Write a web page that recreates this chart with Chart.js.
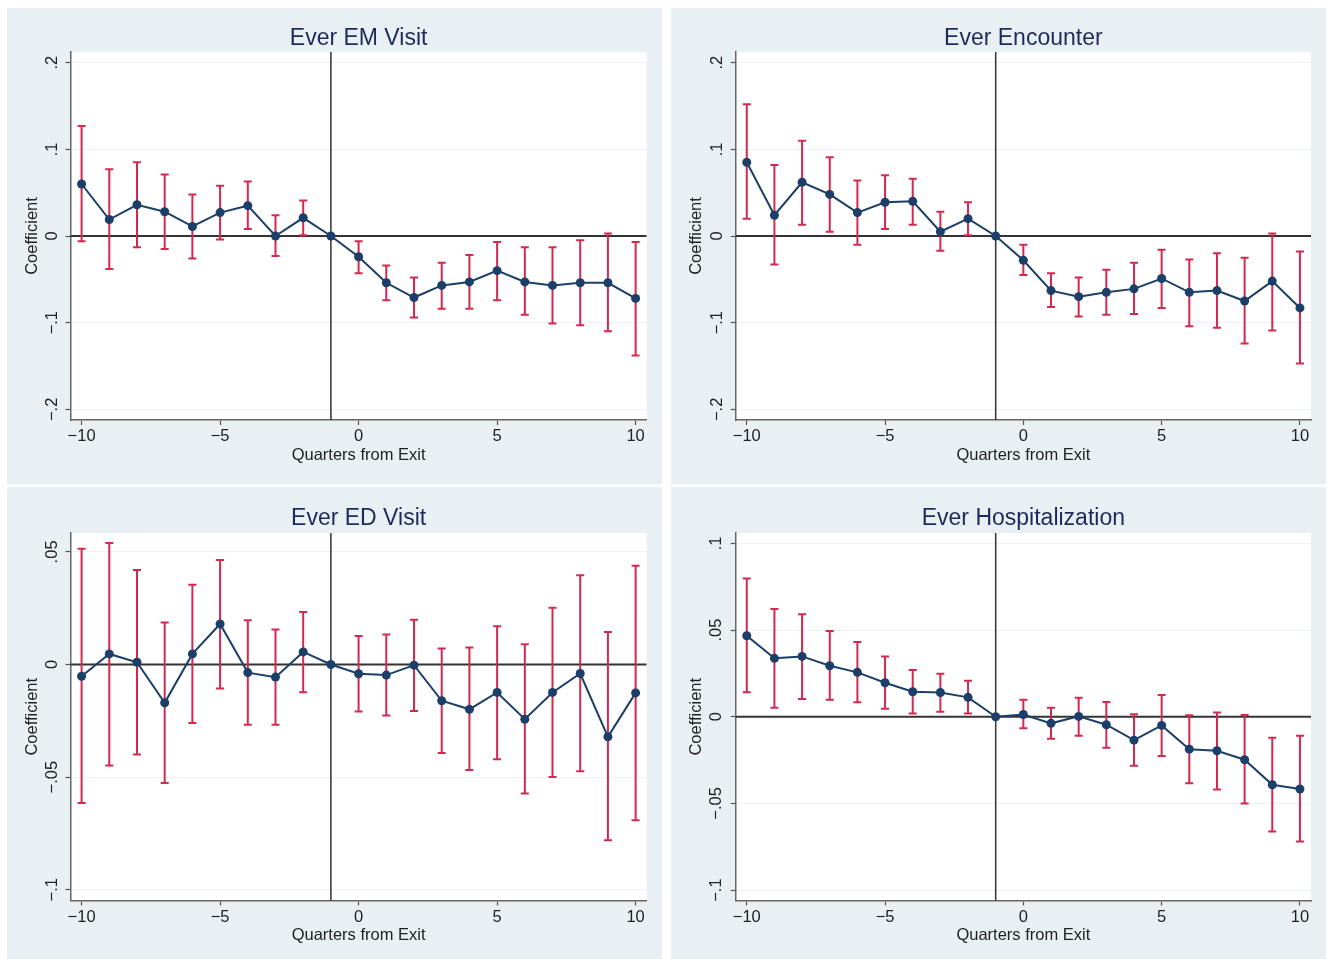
<!DOCTYPE html>
<html>
<head>
<meta charset="utf-8">
<title>Event study coefficients</title>
<script src="https://cdn.jsdelivr.net/npm/chart.js@4.4.1/dist/chart.umd.min.js"></script>
<style>
  body { margin: 0; background: #fff; width: 1333px; height: 959px; position: relative; overflow: hidden; }
  .panel { position: absolute; background: #e9f0f3; }
  .panel canvas { display: block; }
</style>
</head>
<body>
<div class="panel" style="left:7px;top:8px;width:655px;height:476px"><canvas id="emChart" width="655" height="476"></canvas></div>
<div class="panel" style="left:671px;top:8px;width:655px;height:476px"><canvas id="encChart" width="655" height="476"></canvas></div>
<div class="panel" style="left:7px;top:487px;width:655px;height:472px"><canvas id="edChart" width="655" height="472"></canvas></div>
<div class="panel" style="left:671px;top:487px;width:655px;height:472px"><canvas id="hospChart" width="655" height="472"></canvas></div>
<script>
// Quarters relative to exit (x axis)
const quarters = [-10, -9, -8, -7, -6, -5, -4, -3, -2, -1, 0, 1, 2, 3, 4, 5, 6, 7, 8, 9, 10];
const xTicks = [-10, -5, 0, 5, 10];
const xTickLabels = ['−10', '−5', '0', '5', '10'];
const xRange = [-10.4, 10.4];
const omittedQuarter = -1;

// Ever EM Visit
const emCoef = [0.060, 0.019, 0.036, 0.028, 0.011, 0.027, 0.035, 0.000, 0.021, 0, -0.024, -0.054, -0.071, -0.057, -0.053, -0.040, -0.053, -0.057, -0.054, -0.054, -0.072];
const emLo = [-0.006, -0.038, -0.013, -0.015, -0.026, -0.004, 0.008, -0.023, 0.001, null, -0.043, -0.074, -0.094, -0.084, -0.084, -0.074, -0.091, -0.101, -0.103, -0.110, -0.138];
const emHi = [0.127, 0.077, 0.085, 0.071, 0.048, 0.058, 0.063, 0.024, 0.041, null, -0.006, -0.034, -0.048, -0.031, -0.022, -0.007, -0.013, -0.013, -0.005, 0.003, -0.007];

// Ever Encounter
const encCoef = [0.085, 0.024, 0.062, 0.048, 0.027, 0.039, 0.040, 0.005, 0.020, 0, -0.028, -0.063, -0.070, -0.065, -0.061, -0.049, -0.065, -0.063, -0.075, -0.052, -0.083];
const encLo = [0.020, -0.033, 0.013, 0.005, -0.010, 0.008, 0.013, -0.017, 0.001, null, -0.045, -0.082, -0.093, -0.091, -0.090, -0.083, -0.104, -0.106, -0.124, -0.109, -0.147];
const encHi = [0.152, 0.082, 0.110, 0.091, 0.064, 0.070, 0.066, 0.028, 0.039, null, -0.010, -0.043, -0.048, -0.039, -0.031, -0.016, -0.027, -0.020, -0.025, 0.003, -0.018];

// Ever ED Visit
const edCoef = [-0.0052, 0.0047, 0.0010, -0.0170, 0.0047, 0.0180, -0.0036, -0.0056, 0.0056, 0, -0.0041, -0.0047, -0.0003, -0.0161, -0.0199, -0.0124, -0.0243, -0.0124, -0.0040, -0.0321, -0.0126];
const edLo = [-0.0615, -0.0449, -0.0400, -0.0526, -0.0260, -0.0107, -0.0267, -0.0267, -0.0123, null, -0.0209, -0.0227, -0.0206, -0.0393, -0.0468, -0.0421, -0.0573, -0.0500, -0.0474, -0.0780, -0.0692];
const edHi = [0.0514, 0.0540, 0.0420, 0.0187, 0.0354, 0.0464, 0.0197, 0.0156, 0.0233, null, 0.0127, 0.0133, 0.0199, 0.0071, 0.0076, 0.0170, 0.0090, 0.0252, 0.0396, 0.0144, 0.0439];

// Ever Hospitalization
const hospCoef = [0.0467, 0.0337, 0.0348, 0.0294, 0.0256, 0.0196, 0.0144, 0.0140, 0.0112, 0, 0.0013, -0.0038, 0.0002, -0.0046, -0.0135, -0.0050, -0.0187, -0.0196, -0.0248, -0.0392, -0.0417];
const hospLo = [0.0142, 0.0052, 0.0102, 0.0098, 0.0083, 0.0046, 0.0019, 0.0029, 0.0019, null, -0.0067, -0.0127, -0.0110, -0.0179, -0.0283, -0.0227, -0.0383, -0.0419, -0.0500, -0.0662, -0.0719];
const hospHi = [0.0798, 0.0621, 0.0592, 0.0494, 0.0431, 0.0348, 0.0269, 0.0248, 0.0208, null, 0.0098, 0.0052, 0.0110, 0.0085, 0.0015, 0.0125, 0.0008, 0.0025, 0.0010, -0.0121, -0.0110];

// Y axis ticks
const yTicksWide = [-0.2, -0.1, 0, 0.1, 0.2];
const yLabelsWide = ['−.2', '−.1', '0', '.1', '.2'];
const yTicksEd = [-0.1, -0.05, 0, 0.05];
const yLabelsEd = ['−.1', '−.05', '0', '.05'];
const yTicksHosp = [-0.1, -0.05, 0, 0.05, 0.1];
const yLabelsHosp = ['−.1', '−.05', '0', '.05', '.1'];

const FONT = '"Liberation Sans", Arial, Helvetica, sans-serif';
const NAVY = '#1b3f68';
const RED = '#d4284f';
const AXIS = '#666';

// white plot region inside the tinted panel
const plotBackground = {
  id: 'plotBackground',
  beforeDraw(chart) {
    const { ctx, chartArea: a } = chart;
    ctx.save();
    ctx.fillStyle = '#fff';
    ctx.fillRect(a.left, a.top, a.right - a.left, a.bottom - a.top);
    ctx.restore();
  }
};

function errorBarPoints(lo, hi) {
  const pts = [];
  quarters.forEach((q, i) => {
    if (lo[i] === null) return;
    pts.push({ x: q, y: lo[i] }, { x: q, y: hi[i] }, { x: q, y: null });
  });
  return pts;
}

function createPanel(canvasId, title, coef, lo, hi, yRange, yTicks, yLabels, box) {
  return new Chart(document.getElementById(canvasId), {
    type: 'scatter',
    data: {
      datasets: [
        {
          data: quarters.map((q, i) => ({ x: q, y: coef[i] })),
          showLine: true,
          borderColor: NAVY,
          backgroundColor: NAVY,
          borderWidth: 2,
          pointRadius: 4.5,
          pointBorderWidth: 0,
          order: 0
        },
        {
          data: errorBarPoints(lo, hi),
          showLine: true,
          spanGaps: false,
          borderColor: RED,
          borderWidth: 2,
          pointStyle: 'line',
          pointRadius: 4,
          pointBorderColor: RED,
          pointBorderWidth: 2,
          order: 1
        },
        {
          data: [{ x: xRange[0], y: 0 }, { x: xRange[1], y: 0 }],
          showLine: true,
          borderColor: '#333',
          borderWidth: 2,
          pointRadius: 0,
          order: 2
        },
        {
          data: [{ x: omittedQuarter, y: yRange[0] }, { x: omittedQuarter, y: yRange[1] }],
          showLine: true,
          borderColor: '#333',
          borderWidth: 1.5,
          pointRadius: 0,
          order: 3
        }
      ]
    },
    options: {
      responsive: false,
      animation: false,
      events: [],
      layout: { padding: { left: 0, right: box.right, top: 0, bottom: 0 } },
      plugins: {
        legend: { display: false },
        tooltip: { enabled: false },
        title: {
          display: true,
          text: title,
          fullSize: false,
          color: '#1e2a5a',
          font: { family: FONT, size: 23, weight: 'normal' },
          padding: { top: box.titleTop, bottom: box.titleBottom }
        }
      },
      scales: {
        x: {
          type: 'linear',
          min: xRange[0],
          max: xRange[1],
          afterBuildTicks: (s) => { s.ticks = xTicks.map(v => ({ value: v })); },
          afterFit: (s) => { s.height = box.xAxisHeight; },
          ticks: {
            callback: (v, i) => xTickLabels[i],
            color: '#222',
            font: { family: FONT, size: 16.5 },
            padding: 2,
            maxRotation: 0,
            autoSkip: false
          },
          grid: { drawOnChartArea: false, tickLength: 5, tickColor: '#555', tickWidth: 1.2 },
          border: { color: AXIS, width: 1.5 },
          title: {
            display: true,
            text: 'Quarters from Exit',
            color: '#222',
            font: { family: FONT, size: 16.5 },
            padding: { top: 0, bottom: box.xTitleBottom }
          }
        },
        y: {
          type: 'linear',
          min: yRange[0],
          max: yRange[1],
          afterBuildTicks: (s) => { s.ticks = yTicks.map(v => ({ value: v })); },
          afterFit: (s) => { s.width = box.yAxisWidth; },
          ticks: {
            callback: (v, i) => yLabels[i],
            color: '#222',
            font: { family: FONT, size: 16.5 },
            minRotation: 90,
            maxRotation: 90,
            crossAlign: 'center',
            padding: box.yTickPad,
            autoSkip: false
          },
          grid: { color: '#edf2f4', lineWidth: 1, tickLength: 5, tickColor: '#555', tickWidth: 1.2 },
          border: { color: AXIS, width: 1.5 },
          title: {
            display: true,
            text: 'Coefficient',
            color: '#222',
            font: { family: FONT, size: 16.5 },
            padding: { top: 16, bottom: 0 }
          }
        }
      }
    },
    plugins: [plotBackground]
  });
}

const topLeftBox = { right: 15.3, yAxisWidth: 63.5, xAxisHeight: 64, titleTop: 16.4, titleBottom: 0, xTitleBottom: 19, yTickPad: 1.8 };
const topRightBox = { right: 15, yAxisWidth: 64.7, xAxisHeight: 64, titleTop: 16.4, titleBottom: 0, xTitleBottom: 19, yTickPad: 1.8 };
const bottomLeftBox = { right: 15.3, yAxisWidth: 63.5, xAxisHeight: 58.5, titleTop: 17.8, titleBottom: 0.6, xTitleBottom: 14, yTickPad: -2.8 };
const bottomRightBox = { right: 15, yAxisWidth: 64.7, xAxisHeight: 58.5, titleTop: 17.8, titleBottom: 0.6, xTitleBottom: 14, yTickPad: -2 };

createPanel('emChart', 'Ever EM Visit', emCoef, emLo, emHi, [-0.2123, 0.2123], yTicksWide, yLabelsWide, topLeftBox);
createPanel('encChart', 'Ever Encounter', encCoef, encLo, encHi, [-0.2123, 0.2123], yTicksWide, yLabelsWide, topRightBox);
createPanel('edChart', 'Ever ED Visit', edCoef, edLo, edHi, [-0.1048, 0.0584], yTicksEd, yLabelsEd, bottomLeftBox);
createPanel('hospChart', 'Ever Hospitalization', hospCoef, hospLo, hospHi, [-0.106, 0.106], yTicksHosp, yLabelsHosp, bottomRightBox);
</script>
</body>
</html>
